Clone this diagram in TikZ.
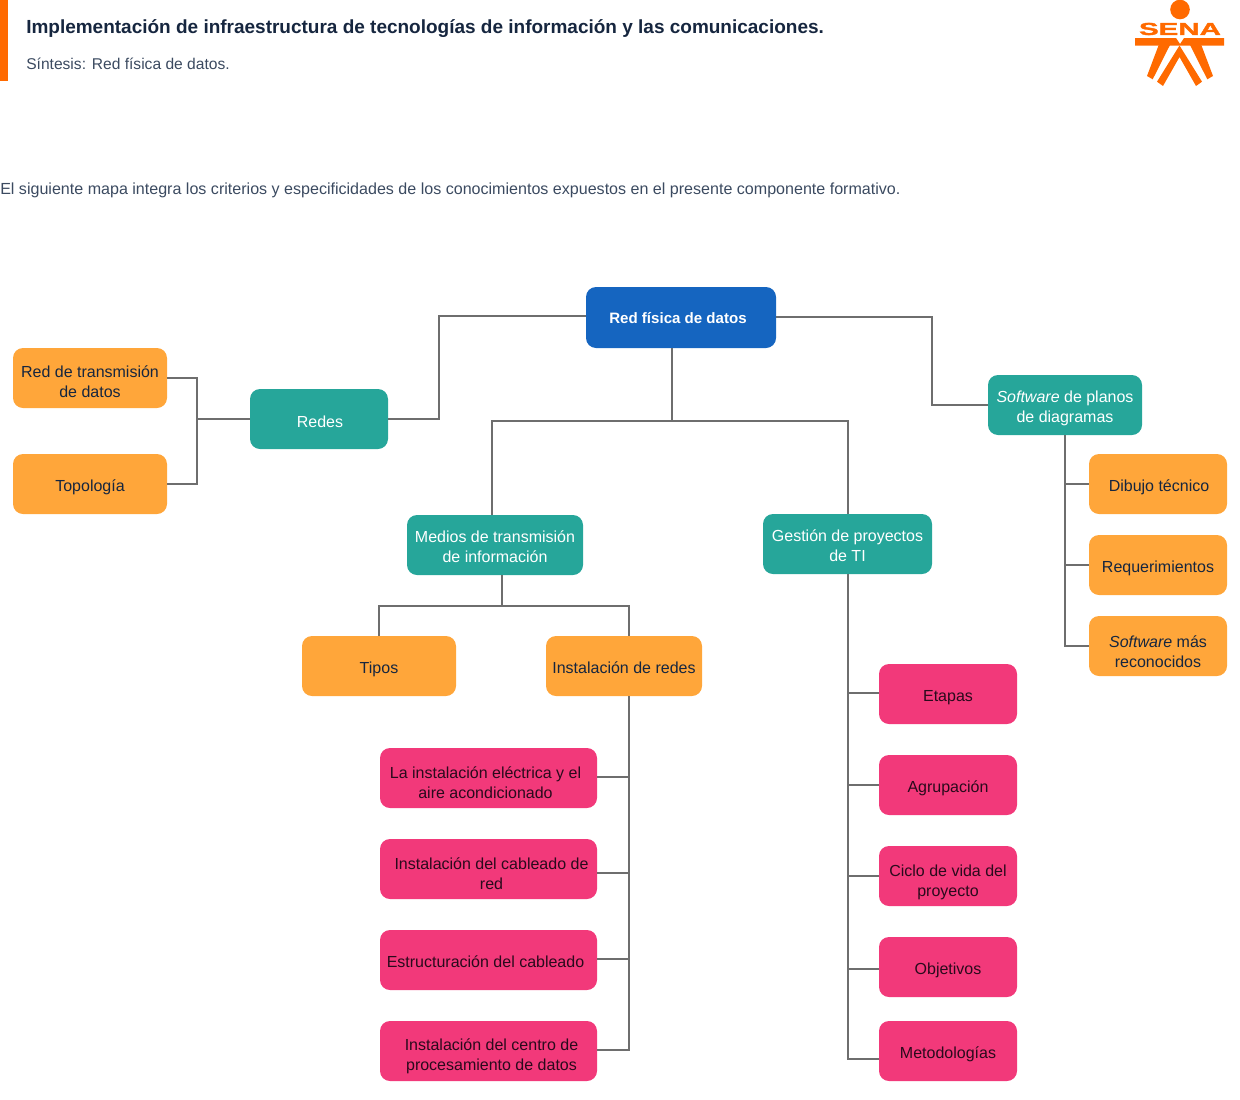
\documentclass[tikz,border=0pt]{standalone}
\usepackage{fontspec}
\setmainfont{Liberation Sans}
\newfontfamily\senafont[BoldFont={Liberation Sans Bold},BoldFeatures={FakeBold=1.5}]{Liberation Sans}
\usetikzlibrary{calc}
\definecolor{ink}{HTML}{16263F}
\definecolor{subink}{HTML}{3B4A60}
\definecolor{sena}{HTML}{FF6A00}
\definecolor{blueb}{HTML}{1565C0}
\definecolor{tealb}{HTML}{26A69A}
\definecolor{orangeb}{HTML}{FFA63A}
\definecolor{pinkb}{HTML}{F2397A}
\definecolor{pinkink}{HTML}{2A0A1C}
\definecolor{linkc}{HTML}{6E6E6E}
\tikzset{
  x=0.75pt,y=-0.75pt,
  box/.style={rounded corners=7.5pt,inner sep=0pt,outer sep=0pt,anchor=center},
  lab/.style={align=center,font=\fontsize{12}{15}\selectfont,inner sep=0pt},
  off/.style 2 args={xshift=#1*0.75pt,yshift=-#2*0.75pt},
  blue/.style={box,fill=blueb},
  teal/.style={box,fill=tealb},
  orange/.style={box,fill=orangeb},
  pink/.style={box,fill=pinkb},
  wire/.style={draw=linkc,line width=1.5pt,line join=miter},
  mark2/.style={fill=sena,draw=none},
}
% name, style, x1, y1, x2, y2, text offset, text colour, text
\newcommand{\bx}[9]{%
  \pgfmathsetmacro{\ww}{(#5-#3)*0.75}%
  \pgfmathsetmacro{\hh}{(#6-#4)*0.75}%
  \node[#2,minimum width=\ww pt,minimum height=\hh pt,
    label={[lab,text=#8,#7]center:{#9}}] (#1) at ({(#3+#5)/2},{(#4+#6)/2}) {};}
\begin{document}
\begin{tikzpicture}
\useasboundingbox (0,0) rectangle (1240,1100);
% header
\node[fill=sena,minimum width=6pt,minimum height=60.75pt,inner sep=0pt,anchor=north west] (accent) at (0,0) {};
\node[anchor=west,inner sep=0pt,text=ink,font=\fontsize{14.24}{18}\selectfont\bfseries] (title) at (26,29) {Implementación de infraestructura de tecnologías de información y las comunicaciones.};
\node[anchor=west,inner sep=0pt,text=subink,font=\fontsize{11.7}{15}\selectfont] (sub) at (26,64) {Síntesis: Red física de datos.};
\node[anchor=west,inner sep=0pt,text=subink,font=\fontsize{12.05}{15}\selectfont] (intro) at (0,190) {El siguiente mapa integra los criterios y especificidades de los conocimientos expuestos en el presente componente formativo.};
% logo
\fill[mark2] (1180,9.5) circle[radius=9.8*0.75pt];
\node[inner sep=0pt,text=sena,font=\fontsize{13}{13}\selectfont\senafont\bfseries] (senat) at (1180,29) {\scalebox{1.7}[1]{SENA}};
\fill[mark2] (1135,38) -- (1176,38) -- (1180,44) -- (1184,38) -- (1224,38) -- (1224,45.5) -- (1135,45.5) -- cycle;
\fill[mark2] (1158.7,45) -- (1170,45) -- (1152.7,79.3) -- (1147,76) -- cycle;
\fill[mark2] (1190,45) -- (1201.3,45) -- (1213,76) -- (1207.3,79.3) -- cycle;
\fill[mark2] (1179.5,45.5) -- (1202,81.7) -- (1196,86) -- (1179.5,57) -- (1163,86) -- (1157,81.7) -- cycle;
% boxes
\bx{root}{blue}{586}{287}{776}{348}{off={-3}{1}}{white}{\fontsize{11.3}{15}\selectfont\textbf{Red física de datos}}
\bx{redes}{teal}{250}{389}{388}{449}{off={1}{3}}{white}{Redes}
\bx{rt}{orange}{13}{348}{167}{408}{off={0}{4}}{ink}{Red de transmisión\\de datos}
\bx{topo}{orange}{13}{454}{167}{514}{off={0}{3}}{ink}{Topología}
\bx{medios}{teal}{407}{515}{583}{575}{off={0}{2}}{white}{Medios de transmisión\\de información}
\bx{gest}{teal}{763}{514}{932}{574}{off={0}{2}}{white}{Gestión de proyectos\\de TI}
\bx{soft}{teal}{988}{375}{1142}{435}{off={0}{3}}{white}{\textit{Software} de planos\\de diagramas}
\bx{dib}{orange}{1089}{454}{1227}{514}{off={1}{3}}{ink}{Dibujo técnico}
\bx{req}{orange}{1089}{535}{1227}{595}{off={0}{3}}{ink}{Requerimientos}
\bx{softm}{orange}{1089}{616}{1227}{676}{off={0}{6}}{ink}{\textit{Software} más\\reconocidos}
\bx{tipos}{orange}{302}{636}{456}{696}{off={0}{3}}{ink}{Tipos}
\bx{inst}{orange}{546}{636}{702}{696}{off={0}{2}}{ink}{Instalación de redes}
\bx{p1}{pink}{380}{748}{597}{808}{off={-3}{5}}{pinkink}{La instalación eléctrica y el\\aire acondicionado}
\bx{p2}{pink}{380}{839}{597}{899}{off={3}{5}}{pinkink}{Instalación del cableado de\\red}
\bx{p3}{pink}{380}{930}{597}{990}{off={-3}{2}}{pinkink}{Estructuración del cableado}
\bx{p4}{pink}{380}{1021}{597}{1081}{off={3}{5}}{pinkink}{Instalación del centro de\\procesamiento de datos}
\bx{q1}{pink}{879}{664}{1017}{724}{off={0}{4}}{pinkink}{Etapas}
\bx{q2}{pink}{879}{755}{1017}{815}{off={0}{3}}{pinkink}{Agrupación}
\bx{q3}{pink}{879}{846}{1017}{906}{off={0}{6}}{pinkink}{Ciclo de vida del\\proyecto}
\bx{q4}{pink}{879}{937}{1017}{997}{off={0}{3}}{pinkink}{Objetivos}
\bx{q5}{pink}{879}{1021}{1017}{1081}{off={0}{3}}{pinkink}{Metodologías}
% junction coordinates
\coordinate (j1) at (439,316);
\coordinate (j2) at (932,317);
\coordinate (j3) at (197,419);
\coordinate (j4) at (672,421);
\coordinate (j5) at (502,606);
% connectors
\draw[wire] (root.west |- j1) -- (j1) -- (439,419) -- (redes.east |- 0,419);
\draw[wire] (root.east |- j2) -- (j2) -- (932,404.5) -- (soft.west |- 0,404.5);
\draw[wire] (redes.west |- j3) -- (j3);
\draw[wire] (rt.east |- 0,377.5) -- (197,377.5) -- (197,483.5) -- (topo.east |- 0,483.5);
\draw[wire] (j4 |- root.south) -- (j4);
\draw[wire] (492,515) -- (492,421) -- (848,421) -- (848,514);
\draw[wire] (j5 |- medios.south) -- (j5);
\draw[wire] (378.5,636) -- (378.5,606) -- (628.5,606) -- (628.5,636);
\draw[wire] (628.5,696) -- (628.5,1050) -- (p4.east |- 0,1050);
\draw[wire] (p1.east |- 0,777) -- (628.5,777);
\draw[wire] (p2.east |- 0,873) -- (628.5,873);
\draw[wire] (p3.east |- 0,959) -- (628.5,959);
\draw[wire] (848,574) -- (848,1059) -- (q5.west |- 0,1059);
\draw[wire] (848,693) -- (q1.west |- 0,693);
\draw[wire] (848,785) -- (q2.west |- 0,785);
\draw[wire] (848,875.5) -- (q3.west |- 0,875.5);
\draw[wire] (848,968.5) -- (q4.west |- 0,968.5);
\draw[wire] (1064.5,435) -- (1064.5,645.5) -- (softm.west |- 0,645.5);
\draw[wire] (1064.5,483.5) -- (dib.west |- 0,483.5);
\draw[wire] (1064.5,564.5) -- (req.west |- 0,564.5);
\end{tikzpicture}
\end{document}
